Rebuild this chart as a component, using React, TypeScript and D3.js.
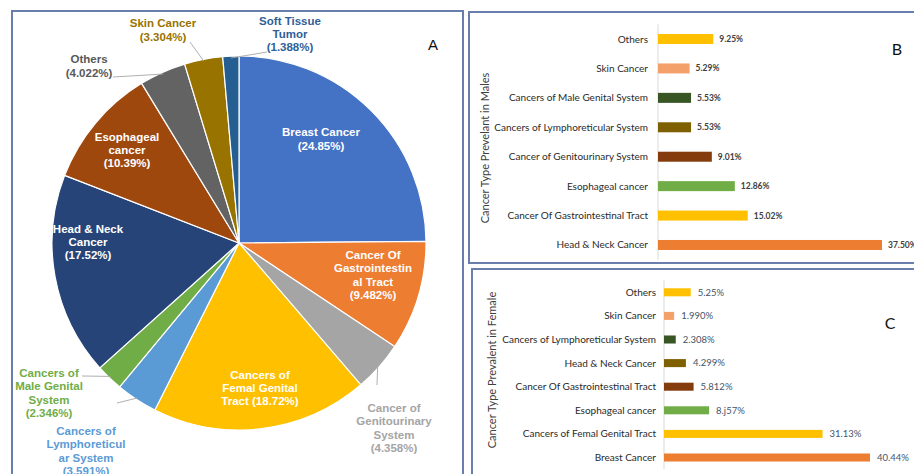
import React from "react";
import * as d3 from "d3";

// ---------- Panel A (pie) data ----------
const pieCategories = [
  "Breast Cancer",
  "Cancer Of Gastrointestinal Tract",
  "Cancer of Genitourinary System",
  "Cancers of Femal Genital Tract",
  "Cancers of Lymphoreticular System",
  "Cancers of Male Genital System",
  "Head & Neck Cancer",
  "Esophageal cancer",
  "Others",
  "Skin Cancer",
  "Soft Tissue Tumor",
];
const pieValues = [24.85, 9.482, 4.358, 18.72, 3.591, 2.346, 17.52, 10.39, 4.022, 3.304, 1.388];
const pieLabelLines = [
  ["Breast Cancer", "(24.85%)"],
  ["Cancer Of", "Gastrointestin", "al Tract", "(9.482%)"],
  ["Cancer of", "Genitourinary", "System", "(4.358%)"],
  ["Cancers of", "Femal Genital", "Tract (18.72%)"],
  ["Cancers of", "Lymphoreticul", "ar System", "(3.591%)"],
  ["Cancers of", "Male Genital", "System", "(2.346%)"],
  ["Head & Neck", "Cancer", "(17.52%)"],
  ["Esophageal", "cancer", "(10.39%)"],
  ["Others", "(4.022%)"],
  ["Skin Cancer", "(3.304%)"],
  ["Soft Tissue", "Tumor", "(1.388%)"],
];
const pieColors = [
  "#4472C4", "#ED7D31", "#A5A5A5", "#FFC000", "#5B9BD5", "#70AD47",
  "#264478", "#9E480E", "#636363", "#997300", "#255E91",
];
const pieLabelColors = [
  "#ffffff", "#ffffff", "#A5A5A5", "#ffffff", "#5B9BD5", "#70AD47",
  "#ffffff", "#ffffff", "#595959", "#997300", "#2F5F98",
];
// label placement (layout): label center relative to pie center; lx/ly = leader-line end
const pieLabelLayout = [
  { inside: true, x: 82, y: -104 },
  { inside: true, x: 134, y: 32 },
  { inside: false, x: 155, y: 185, lx: 138, ly: 142 },
  { inside: true, x: 21, y: 145 },
  { inside: false, x: -153, y: 208, lx: -122, ly: 160 },
  { inside: false, x: -190, y: 150, lx: -157, ly: 133 },
  { inside: true, x: -151, y: -1 },
  { inside: true, x: -112, y: -93 },
  { inside: false, x: -150, y: -177, lx: -126, ly: -166 },
  { inside: false, x: -76, y: -213, lx: -49, ly: -201 },
  { inside: false, x: 51, y: -209, lx: 28, ly: -191 },
];

// ---------- Panel B (males) ----------
const maleCategories = [
  "Others",
  "Skin Cancer",
  "Cancers of Male Genital System",
  "Cancers of Lymphoreticular System",
  "Cancer of Genitourinary System",
  "Esophageal cancer",
  "Cancer Of Gastrointestinal Tract",
  "Head & Neck Cancer",
];
const maleValues = [9.25, 5.29, 5.53, 5.53, 9.01, 12.86, 15.02, 37.5];
const maleLabels = ["9.25%", "5.29%", "5.53%", "5.53%", "9.01%", "12.86%", "15.02%", "37.50%"];
const maleColors = ["#FFC000", "#F4A06A", "#375623", "#7F6000", "#843C0C", "#70AD47", "#FFC000", "#ED7D31"];

// ---------- Panel C (females) ----------
const femaleCategories = [
  "Others",
  "Skin Cancer",
  "Cancers of Lymphoreticular System",
  "Head & Neck Cancer",
  "Cancer Of Gastrointestinal Tract",
  "Esophageal cancer",
  "Cancers of Femal Genital Tract",
  "Breast Cancer",
];
const femaleValues = [5.25, 1.99, 2.308, 4.299, 5.812, 8.857, 31.13, 40.44];
const femaleLabels = ["5.25%", "1.990%", "2.308%", "4.299%", "5.812%", "8.j57%", "31.13%", "40.44%"];
const femaleColors = ["#FFC000", "#F4A06A", "#375623", "#7F6000", "#843C0C", "#70AD47", "#FFC000", "#ED7D31"];

const W = 914;
const H = 474;
const BORDER = "#6a7eae";

function Pie() {
  const cx = 239, cy = 243, r = 187;
  const pie = d3.pie<number>().sort(null).value((d) => d)(pieValues);
  const arc = d3.arc<d3.PieArcDatum<number>>().innerRadius(0).outerRadius(r);
  const lh = 13.4;
  return (
    <g>
      <g transform={`translate(${cx},${cy})`}>
        {pie.map((p, i) => (
          <path key={i} d={arc(p) || ""} fill={pieColors[i]} stroke="#ffffff" strokeWidth={1.2} />
        ))}
        {pie.map((p, i) => {
          const L = pieLabelLayout[i];
          const lines = pieLabelLines[i];
          const mid = (p.startAngle + p.endAngle) / 2;
          const ox = r * Math.sin(mid), oy = -r * Math.cos(mid);
          const y0 = L.y - ((lines.length - 1) * lh) / 2;
          return (
            <g key={"l" + i}>
              {!L.inside && (
                <line x1={ox * 0.99} y1={oy * 0.99} x2={L.lx} y2={L.ly} stroke="#a6a6a6" strokeWidth={0.9} />
              )}
              <text
                textAnchor="middle"
                fontFamily="'Liberation Sans', Arial, sans-serif"
                fontWeight="bold"
                fontSize={11.5}
                fill={pieLabelColors[i]}
              >
                {lines.map((t, j) => (
                  <tspan key={j} x={L.x} y={y0 + j * lh} dy="0.35em">{t}</tspan>
                ))}
              </text>
            </g>
          );
        })}
      </g>
      <text x={433} y={45} dy="0.35em" textAnchor="middle" fontFamily="'Liberation Sans', Arial, sans-serif" fontSize={15} fill="#111">A</text>
    </g>
  );
}

type BarProps = {
  cats: string[];
  vals: number[];
  labels: string[];
  colors: string[];
  x0: number;
  xMaxVal: number;
  xMaxPx: number;
  yTop: number;
  yBottom: number;
  labelX: number;
  title: string;
  titleX: number;
  titleY: number;
  valueBold: boolean;
  valueColor: string;
  valueSize: number;
  valueGap: number;
  catSize: number;
  letter: string;
  letterX: number;
  letterY: number;
};

function Bars(p: BarProps) {
  const x = d3.scaleLinear().domain([0, p.xMaxVal]).range([p.x0, p.xMaxPx]);
  const y = d3.scaleBand<string>().domain(p.cats).range([p.yTop, p.yBottom]).paddingInner(0.66).paddingOuter(0.33);
  const font = "Lato, 'Open Sans', sans-serif";
  return (
    <g>
      <line x1={p.x0} x2={p.x0} y1={p.yTop} y2={p.yBottom} stroke="#d9d9d9" strokeWidth={1} />
      {p.cats.map((c, i) => {
        const yy = y(c)!;
        const bw = y.bandwidth();
        return (
          <g key={c}>
            <rect x={p.x0} y={yy} width={x(p.vals[i]) - p.x0} height={bw} fill={p.colors[i]} />
            <text x={p.labelX} y={yy + bw / 2} dy="0.35em" textAnchor="end" fontFamily={font} fontSize={p.catSize} fill="#2a2a2a">{c}</text>
            <text x={x(p.vals[i]) + p.valueGap} y={yy + bw / 2} dy="0.35em" fontFamily={font} fontSize={p.valueSize} fontWeight={p.valueBold ? "bold" : "normal"} fill={p.valueColor}>{p.labels[i]}</text>
          </g>
        );
      })}
      <text transform={`translate(${p.titleX},${p.titleY}) rotate(-90)`} textAnchor="middle" dy="0.35em" fontFamily={font} fontSize={11} fill="#404040">{p.title}</text>
      <text x={p.letterX} y={p.letterY} dy="0.35em" textAnchor="middle" fontFamily={font} fontSize={16} fill="#111">{p.letter}</text>
    </g>
  );
}

export default function App() {
  return (
    <div style={{ position: "fixed", left: 0, top: 0 }}>
      <svg width={W} height={H} viewBox={`0 0 ${W} ${H}`} style={{ display: "block", background: "#fff" }}>
        <rect x={0} y={0} width={W} height={H} fill="#ffffff" />
        <rect x={12} y={11} width={451} height={480} fill="none" stroke={BORDER} strokeWidth={2} />
        <rect x={469} y={12} width={460} height={251} fill="none" stroke={BORDER} strokeWidth={2} />
        <rect x={472} y={269} width={460} height={240} fill="none" stroke={BORDER} strokeWidth={2} />
        <Pie />
        <Bars
          cats={maleCategories}
          vals={maleValues}
          labels={maleLabels}
          colors={maleColors}
          x0={658}
          xMaxVal={37.5}
          xMaxPx={882}
          yTop={24.3}
          yBottom={259.7}
          labelX={648}
          title="Cancer Type Prevelant in Males"
          titleX={485}
          titleY={148}
          valueBold={true}
          valueColor="#404040"
          valueSize={8.5}
          valueGap={6}
          catSize={10}
          letter="B"
          letterX={897}
          letterY={49}
        />
        <Bars
          cats={femaleCategories}
          vals={femaleValues}
          labels={femaleLabels}
          colors={femaleColors}
          x0={664}
          xMaxVal={40.44}
          xMaxPx={870}
          yTop={280.5}
          yBottom={469.3}
          labelX={656}
          title="Cancer Type Prevalent in Female"
          titleX={492}
          titleY={370}
          valueBold={false}
          valueColor="#44546A"
          valueSize={9.5}
          valueGap={7}
          catSize={10}
          letter="C"
          letterX={890}
          letterY={323}
        />
      </svg>
    </div>
  );
}
